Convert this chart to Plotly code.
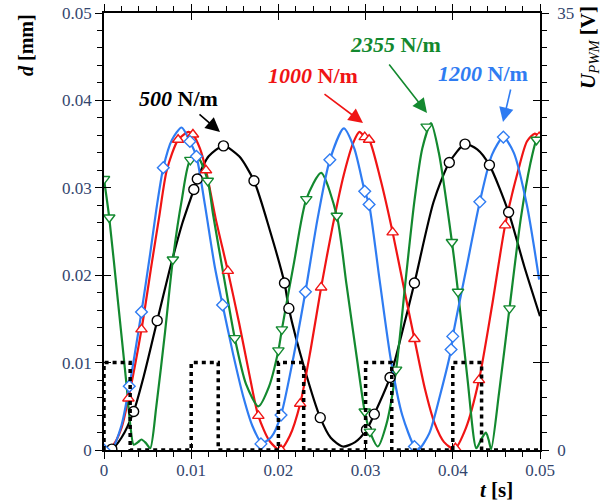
import numpy as np
import plotly.graph_objects as go

# ---- data (t in ms, d in micrometres = 0.001 mm) ----
black_t = [0, 0.9, 2.0, 3.4, 4.6, 6.1, 7.5, 9.0, 10.3, 10.7, 12.0, 13.7, 15.5, 17.2, 19.0, 20.7, 21.2, 23.0,
           24.8, 26.0, 27.4, 28.8, 30.1, 31.0, 32.8, 34.2, 35.6, 37.8, 39.6, 41.4, 42.8, 44.2, 46.4, 48.2, 50.0]
black_d = [0, 0.1, 1.4, 4.4, 8.6, 14.8, 20.5, 26.0, 29.8, 31.0, 33.6, 34.8, 33.6, 30.8, 25.2, 19.1, 16.2, 9.3,
           3.7, 1.4, 0.4, 0.9, 2.3, 4.1, 8.3, 13.5, 19.1, 28.4, 32.9, 35.0, 34.4, 32.6, 27.2, 21.0, 15.3]
black_mt = [0.9, 3.4, 6.1, 10.3, 10.7, 13.7, 17.2, 20.7, 21.2, 24.8, 30.1, 31.0, 32.8, 35.6, 39.6, 41.4, 44.2, 46.4]
black_md = [0.1, 4.4, 14.8, 29.8, 31.0, 34.8, 30.8, 19.1, 16.2, 3.7, 2.3, 4.1, 8.3, 19.1, 32.9, 35.0, 32.6, 27.2]

red_t = [0, 1.0, 2.0, 2.8, 4.3, 5.5, 6.3, 7.2, 8.5, 9.7, 10.2, 11.0, 11.7, 12.8, 14.2, 15.5, 16.6, 17.7, 19.0,
         20.2, 21.3, 22.5, 23.7, 24.9, 26.2, 27.5, 28.6, 29.3, 29.9, 30.4, 31.7, 33.1, 34.4, 35.6, 36.8, 37.9,
         39.0, 40.2, 41.5, 43.0, 44.5, 46.0, 47.5, 48.5, 49.4, 50.0]
red_d = [0, 0.5, 2.5, 5.9, 13.8, 21.5, 26.5, 32.0, 35.5, 36.4, 36.1, 34.5, 32.0, 26.5, 20.5, 14.5, 9.0, 3.9, 1.0,
         0.0, 1.6, 5.3, 11.5, 18.6, 25.5, 31.5, 35.2, 36.4, 35.8, 35.5, 31.0, 24.9, 18.5, 12.7, 7.0, 3.1,
         0.9, 0.1, 2.5, 8.0, 16.5, 25.7, 32.0, 35.3, 36.2, 35.8]
red_mt = [2.8, 4.3, 8.5, 10.2, 11.7, 14.2, 17.7, 20.3, 22.5, 24.9, 29.9, 30.4, 33.1, 35.6, 40.3, 43.0, 46.0, 49.9]
red_md = [5.9, 13.8, 35.5, 36.1, 32.0, 20.5, 3.9, 0.0, 5.3, 18.6, 35.8, 35.5, 24.9, 12.7, 0.2, 8.0, 25.7, 35.8]

blue_t = [0, 0.9, 2.0, 2.9, 4.3, 5.3, 6.0, 6.8, 7.8, 8.9, 9.85, 10.6, 11.5, 12.7, 13.6, 14.8, 16.0, 17.0, 18.1,
          19.2, 20.3, 21.7, 23.1, 24.5, 25.9, 27.5, 28.7, 29.9, 30.4, 31.6, 32.9, 34.2, 35.6, 36.1, 37.3, 38.6,
          39.8, 40.0, 41.5, 43.1, 44.5, 45.8, 47.0, 48.5, 49.9]
blue_d = [0, 0.1, 2.8, 7.3, 15.8, 22.5, 27.5, 32.3, 35.5, 36.9, 35.3, 33.6, 28.5, 21.0, 16.6, 11.0, 6.0, 2.8, 0.8,
          1.5, 4.0, 10.5, 18.1, 26.5, 33.2, 36.8, 34.5, 29.6, 28.1, 19.5, 10.3, 4.0, 0.4, 0.1, 1.9, 6.5,
          11.5, 13.0, 20.5, 28.4, 33.8, 35.8, 34.0, 28.0, 19.5]
blue_mt = [0.0, 2.9, 4.3, 6.8, 9.85, 10.6, 13.6, 18.0, 20.3, 23.1, 25.9, 29.9, 30.4, 35.6, 39.8, 40.0, 43.1, 45.8]
blue_md = [0.0, 7.3, 15.8, 32.3, 35.3, 33.6, 16.6, 0.7, 4.0, 18.1, 33.2, 29.6, 28.1, 0.4, 11.5, 13.0, 28.4, 35.8]

green_t = [0, 0.6, 1.6, 2.6, 3.0, 3.4, 3.9, 4.3, 4.8, 5.3, 6.0, 7.0, 7.9, 8.9, 9.9, 10.8, 11.9, 12.5, 13.8, 15.0,
           16.3, 17.7, 18.9, 20.0, 20.4, 21.8, 23.2, 24.9, 26.7, 27.8, 29.0, 29.9, 30.5, 31.4, 32.4, 33.5, 34.6,
           35.6, 36.5, 37.5, 38.4, 39.9, 40.6, 41.7, 42.7, 43.3, 43.8, 44.1, 44.4, 45.3, 46.5, 47.8, 48.9, 49.6, 50.0]
green_d = [31.0, 26.6, 17.0, 7.3, 3.0, 0.6, 0.9, 1.2, 0.8, 0.2, 5.0, 13.5, 21.8, 28.5, 33.2, 33.4, 30.8, 27.0, 19.5, 12.8,
           7.5, 5.0, 7.2, 11.4, 13.8, 21.5, 28.7, 31.7, 26.8, 19.0, 10.5, 4.4, 2.1, 0.4, 3.0, 9.2, 19.5,
           28.5, 34.5, 37.4, 34.0, 23.8, 18.1, 8.0, 0.2, 1.3, 2.0, 1.2, 0.1, 6.5, 16.2, 26.5, 32.8, 35.5, 36.0]
green_mt = [0, 0.6, 7.9, 9.9, 11.9, 15.0, 20.0, 20.4, 23.2, 26.7, 29.9, 30.5, 33.5, 37.0, 39.9, 40.6, 46.5, 49.6]
green_md = [31.0, 26.6, 21.8, 33.2, 30.8, 12.8, 11.4, 13.8, 28.7, 26.8, 4.4, 2.1, 9.2, 37.0, 23.8, 18.1, 16.2, 35.5]

# PWM voltage pulses (ms, V)
pwm_t = [0, 0, 3.0, 10.0, 13.1, 20.0, 22.9, 30.0, 33.0, 40.0, 43.3, 50.0]
pwm_v = [0, 7, 0, 7, 0, 7, 0, 7, 0, 7, 0, 0]

x_ticks = [0, 0.01, 0.02, 0.03, 0.04, 0.05]
x_labels = ["0", "0.01", "0.02", "0.03", "0.04", "0.05"]
y_ticks = [0, 0.01, 0.02, 0.03, 0.04, 0.05]
y_labels = ["0", "0.01", "0.02", "0.03", "0.04", "0.05"]

COL_BLACK = "#000000"
COL_RED = "#f01414"
COL_GREEN = "#13892f"
COL_BLUE = "#2f7cf2"
FONT = "Liberation Serif"
TICKCOL = "#34466e"

fig = go.Figure()

series = [
    (black_t, black_d, black_mt, black_md, COL_BLACK, "circle", 10),
    (red_t, red_d, red_mt, red_md, COL_RED, "triangle-up", 10),
    (green_t, green_d, green_mt, green_md, COL_GREEN, "triangle-down", 10),
    (blue_t, blue_d, blue_mt, blue_md, COL_BLUE, "diamond", 9),
]
for t, d, mt, md, c, sym, sz in series:
    fig.add_trace(go.Scatter(x=np.array(t) / 1000, y=np.array(d) / 1000, mode="lines",
                             line=dict(color=c, width=2.2, shape="spline", smoothing=0.7),
                             showlegend=False, hoverinfo="skip"))
for t, d, mt, md, c, sym, sz in series:
    fig.add_trace(go.Scatter(x=np.array(mt) / 1000, y=np.array(md) / 1000, mode="markers",
                             marker=dict(symbol=sym, size=sz, color="white", line=dict(color=c, width=1.4)),
                             showlegend=False, hoverinfo="skip"))

fig.add_trace(go.Scatter(x=np.array(pwm_t) / 1000, y=pwm_v, mode="lines", xaxis="x2", yaxis="y2",
                         line=dict(color="black", width=3.5, dash="4px,4px", shape="hv"),
                         showlegend=False, hoverinfo="skip"))

axis_common = dict(showgrid=False, zeroline=False, showline=True, linecolor="black", linewidth=1.5,
                   automargin=False)

fig.update_layout(
    width=612, height=504,
    margin=dict(l=104, r=72, t=13, b=54, autoexpand=False),
    paper_bgcolor="white", plot_bgcolor="white",
    font=dict(family=FONT, size=17, color=TICKCOL),
    xaxis=dict(range=[0, 0.05], tickvals=x_ticks, ticktext=x_labels, ticks="outside", ticklen=7,
               tickcolor="black", tickwidth=1.3, mirror="allticks", ticklabelstandoff=-3,
               minor=dict(dtick=0.002, ticks="outside", ticklen=5, tickcolor="black", tickwidth=1.2),
               tickfont=dict(family=FONT, size=17, color=TICKCOL), **axis_common),
    yaxis=dict(range=[0, 0.05], tickvals=y_ticks, ticktext=y_labels, ticks="outside", ticklen=7,
               tickcolor="black", tickwidth=1.3, mirror="allticks",
               minor=dict(dtick=0.002, ticks="outside", ticklen=5, tickcolor="black", tickwidth=1.2),
               tickfont=dict(family=FONT, size=17, color=TICKCOL), **axis_common),
    xaxis2=dict(range=[0, 0.05], overlaying="x", tickvals=x_ticks, ticks="inside", ticklen=7,
                tickcolor="black", tickwidth=1.3, mirror="allticks", showticklabels=False, **axis_common),
    yaxis2=dict(range=[0, 35], overlaying="y", side="right", tickvals=[0, 7, 14, 21, 28, 35],
                ticktext=["0", "", "", "", "", "35"], ticks="inside", ticklen=7, tickcolor="black",
                tickwidth=1.3, mirror="allticks", ticklabelstandoff=12,
                tickfont=dict(family=FONT, size=17, color=TICKCOL), **axis_common),
)


def px(x):
    return (x - 104) / 436


def py(y):
    return (450 - y) / 437


ann = []
# axis titles
ann.append(dict(x=px(26), y=py(45), xref="paper", yref="paper", text="<b><i>d</i> [mm]</b>",
                xanchor="center", yanchor="middle",
                textangle=-90, showarrow=False, font=dict(family=FONT, size=20, color="black")))
ann.append(dict(x=px(496), y=py(490), xref="paper", yref="paper", text="<b><i>t</i> [s]</b>",
                xanchor="center", yanchor="middle",
                showarrow=False, font=dict(family=FONT, size=21, color="black")))
ann.append(dict(x=px(589), y=py(48), xref="paper", yref="paper",
                text="<b><i>U</i></b><sub><i>PWM</i></sub><b> [V]</b>",
                xanchor="center", yanchor="middle",
                textangle=-90, showarrow=False, font=dict(family=FONT, size=21, color="black")))

labels = [
    ("<b><i>500</i> N/m</b>", 178, 98, COL_BLACK, (220, 132), (198, 113)),
    ("<b><i>1000</i> N/m</b>", 313, 75, COL_RED, (363, 123), (323, 93)),
    ("<b><i>2355</i> N/m</b>", 395, 45, COL_GREEN, (427, 113), (388, 63)),
    ("<b><i>1200</i> N/m</b>", 483, 73, COL_BLUE, (503, 122), (511, 88)),
]
for text, lx, ly, c, head, tail in labels:
    ann.append(dict(x=px(lx), y=py(ly), xref="paper", yref="paper", text=text, showarrow=False,
                    xanchor="center", yanchor="middle",
                    font=dict(family=FONT, size=22, color=c)))
    ann.append(dict(x=px(head[0]), y=py(head[1]), xref="paper", yref="paper", text="",
                    showarrow=True, ax=tail[0] - head[0], ay=tail[1] - head[1],
                    arrowhead=2, arrowsize=1.8, arrowwidth=1.6, arrowcolor=c, standoff=0))
fig.update_layout(annotations=ann)

fig.write_html("out.html", config={"displayModeBar": False},
               post_script="document.body.style.margin='0px';")
